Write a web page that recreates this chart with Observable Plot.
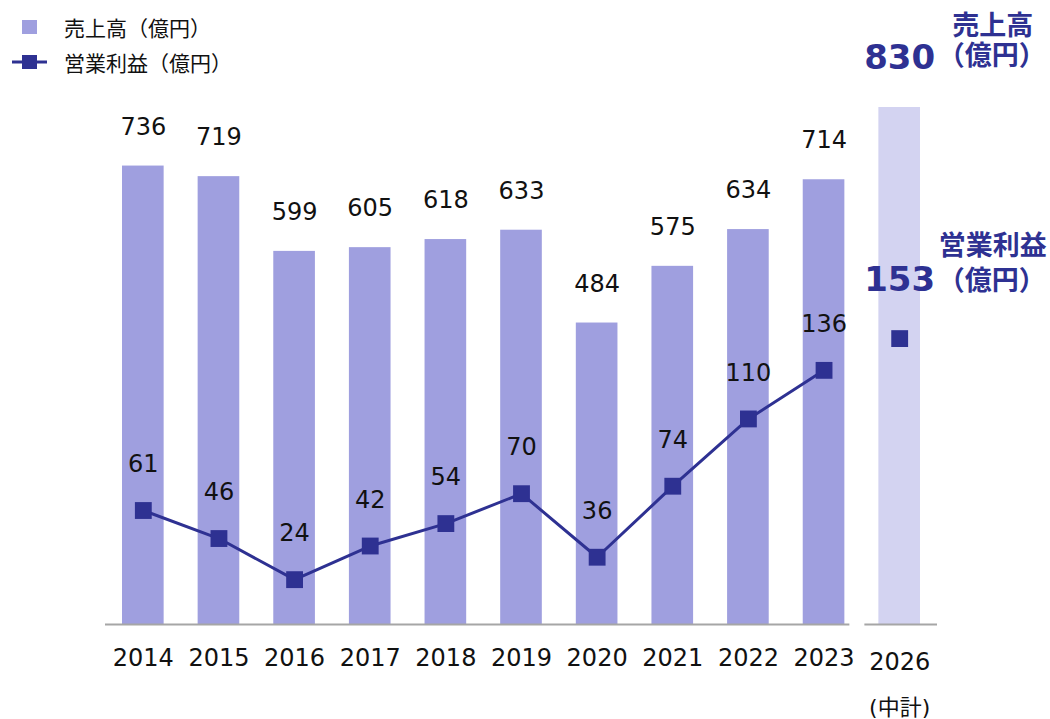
<!DOCTYPE html>
<html><head><meta charset="utf-8">
<script src="https://cdn.jsdelivr.net/npm/d3@7"></script>
<script src="https://cdn.jsdelivr.net/npm/@observablehq/plot@0.6"></script>
<style>
html,body{margin:0;padding:0;background:#fff;}
body{font-family:"DejaVu Sans","Noto Sans CJK JP",sans-serif;}
#wrap{position:relative;width:1050px;height:719px;overflow:hidden;}
.item{position:absolute;left:0;height:30px;display:flex;align-items:center;font-size:21px;color:#111;white-space:nowrap;font-family:"Noto Sans CJK JP",sans-serif;}
.item svg{margin-right:16px;}
</style></head><body>
<div id="wrap">
  <div id="chart"></div>
  <div class="item" style="top:12px;left:12px" id="lg1"></div>
  <div class="item" style="top:47px;left:12px" id="lg2"></div>
</div>
<script>
// ---- data ----
const years = ["2014","2015","2016","2017","2018","2019","2020","2021","2022","2023"];
const sales = [736, 719, 599, 605, 618, 633, 484, 575, 634, 714];
const profit = [61, 46, 24, 42, 54, 70, 36, 74, 110, 136];
const planYear = "2026";
const planLabel = "(中計)";
const planSales = 830;
const planProfit = 153;
const salesTitle = "売上高";
const profitTitle = "営業利益";
const unitLabel = "（億円）";
const profitAxisFactor = 3; // profit plotted on sales axis at ×3

const navy = "#2e3192";
const barColor = "#9f9fdf";
const planColor = "#d3d3f1";
const font = `"DejaVu Sans","Noto Sans CJK JP",sans-serif`;

const actual = years.map((y, i) => ({year: y, sales: sales[i], profit: profit[i]}));
const plan = [{year: planYear, sales: planSales, profit: planProfit}];
const allYears = [...years, planYear];
const py = d => d.profit * profitAxisFactor;

const chart = Plot.plot({
  width: 1050, height: 719,
  marginLeft: 105, marginRight: 113, marginTop: 107, marginBottom: 95,
  x: {type: "band", domain: allYears, padding: 0, round: false, axis: null},
  y: {domain: [0, planSales], axis: null},
  style: {fontFamily: font, background: "white", overflow: "visible"},
  marks: [
    Plot.barY(actual, {x: "year", y: "sales", fill: barColor, insetLeft: 17, insetRight: 17}),
    Plot.barY(plan, {x: "year", y: "sales", fill: planColor, insetLeft: 17, insetRight: 17}),
    Plot.ruleY([0], {x1: () => years[0], x2: () => years[years.length - 1], insetRight: 12, stroke: "#a6a6a6", strokeWidth: 2}),
    Plot.ruleY([0], {x1: () => planYear, x2: () => planYear, insetLeft: 3, stroke: "#a6a6a6", strokeWidth: 2}),
    Plot.line(actual, {x: "year", y: py, stroke: navy, strokeWidth: 3}),
    Plot.dot(actual, {x: "year", y: py, symbol: "square", r: 9.5, fill: navy, stroke: null}),
    Plot.dot(plan, {x: "year", y: py, symbol: "square", r: 9.5, fill: navy, stroke: null}),
    Plot.text(actual, {x: "year", y: "sales", text: d => String(d.sales), dy: -39, fontSize: 24, fill: "#111"}),
    Plot.text(actual, {x: "year", y: py, text: d => String(d.profit), dy: -46, fontSize: 24, fill: "#111"}),
    Plot.text(plan, {x: "year", y: "sales", text: d => String(d.sales), dy: -49, fontSize: 34, fontWeight: "bold", fill: navy}),
    Plot.text(plan, {x: "year", y: "sales", text: () => salesTitle, dx: 93, dy: -81, fontSize: 27, fontWeight: "bold", fill: navy}),
    Plot.text(plan, {x: "year", y: "sales", text: () => unitLabel, dx: 92, dy: -51, fontSize: 27, fontWeight: "bold", fill: navy}),
    Plot.text(plan, {x: "year", y: py, text: d => String(d.profit), dy: -58, fontSize: 34, fontWeight: "bold", fill: navy}),
    Plot.text(plan, {x: "year", y: py, text: () => profitTitle, dx: 93, dy: -92, fontSize: 27, fontWeight: "bold", fill: navy}),
    Plot.text(plan, {x: "year", y: py, text: () => unitLabel, dx: 92, dy: -57, fontSize: 27, fontWeight: "bold", fill: navy}),
    Plot.text(years, {x: d => d, text: d => d, frameAnchor: "bottom", dy: 41, fontSize: 24, fill: "#111"}),
    Plot.text([planYear], {x: d => d, text: d => d, frameAnchor: "bottom", dy: 45, fontSize: 24, fill: "#111"}),
    Plot.text([planYear], {x: d => d, text: () => planLabel, frameAnchor: "bottom", dy: 90, fontSize: 22, fill: "#111"})
  ]
});
document.getElementById("chart").appendChild(chart);

document.getElementById("lg1").innerHTML =
  `<svg width="36" height="30"><rect x="10" y="8" width="15" height="14" fill="${barColor}"/></svg>${salesTitle}${unitLabel}`;
document.getElementById("lg2").innerHTML =
  `<svg width="36" height="30"><line x1="0" x2="35" y1="15" y2="15" stroke="${navy}" stroke-width="3"/><rect x="10" y="8" width="15" height="14" fill="${navy}"/></svg>${profitTitle}${unitLabel}`;
</script>
</body></html>
